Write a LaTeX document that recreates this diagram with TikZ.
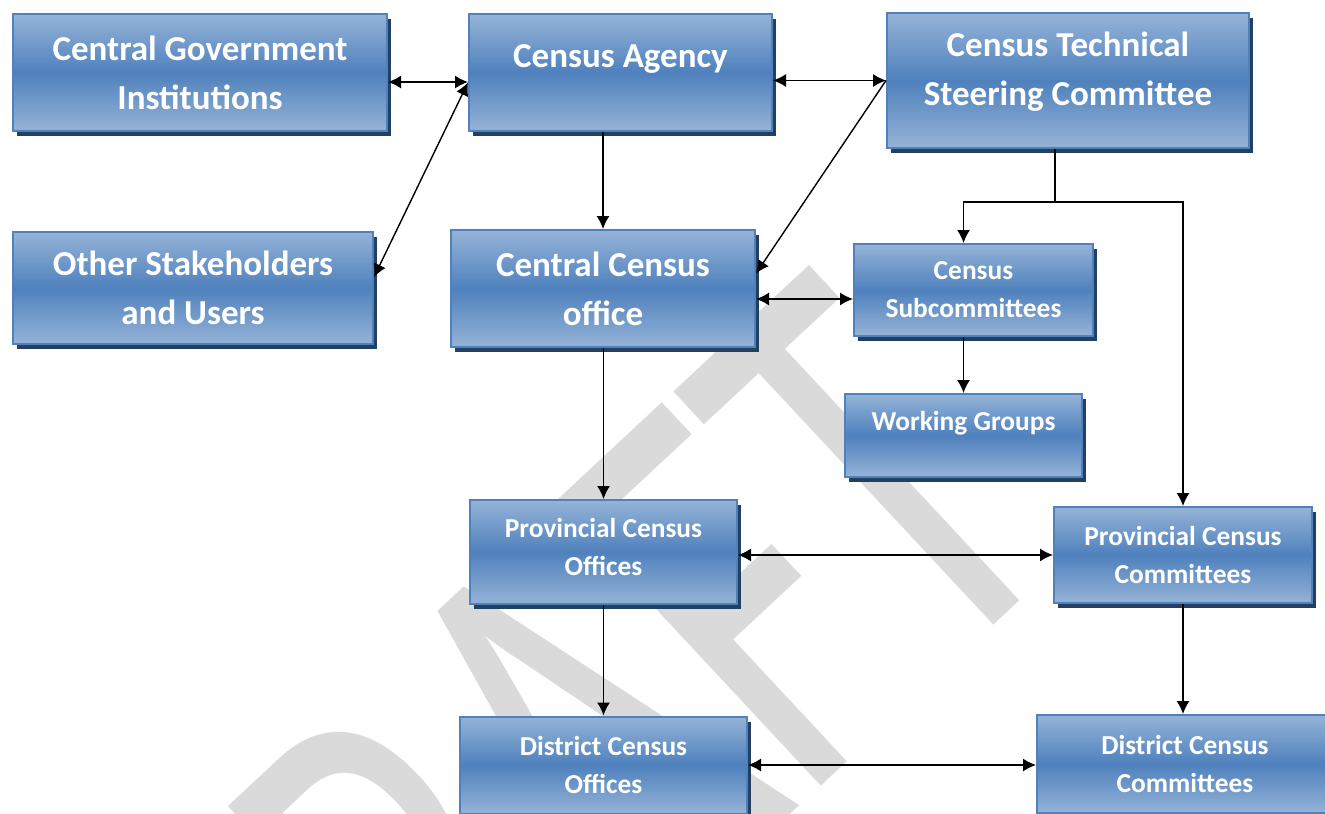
\documentclass[tikz,border=0pt]{standalone}
\usepackage{graphicx}
\usepackage{fontspec}
\setmainfont{Carlito}
\usetikzlibrary{arrows.meta,shadows}

\definecolor{boxtop}{RGB}{149,179,215}
\definecolor{boxmid}{RGB}{79,129,189}
\definecolor{boxline}{RGB}{79,129,189}
\definecolor{boxshade}{RGB}{36,64,97}
\definecolor{wmgray}{RGB}{218,218,218}

\newcommand{\liftline}[2]{\raisebox{#1}[\height][\depth]{#2}}

\begin{document}
\begin{tikzpicture}[x=0.5pt,y=-0.5pt,
  every path/.style={>={Latex[length=6.5pt,width=6.5pt]}},
  box/.style={draw=boxline,line width=1pt,rectangle,top color=boxtop,bottom color=boxtop,middle color=boxmid,
    text=white,align=center,drop shadow={shadow xshift=2pt,shadow yshift=-2.5pt,opacity=1,fill=boxshade}},
  big/.style={box,font=\bfseries\fontsize{17.5pt}{24.5pt}\selectfont},
  small/.style={box,font=\bfseries\fontsize{13.7pt}{19pt}\selectfont},
  link/.style={line width=0.7pt}]
\useasboundingbox (0,0) rectangle (1325,813);
\clip (0,0) rectangle (1325,813);
\fill[white] (0,0) rectangle (1325,813);

% watermark
\node[text=wmgray,rotate=43,font=\fontsize{303pt}{303pt}\selectfont] (draft) at (553,770) {\scalebox{0.66}[1]{DRAFT}};

% top row
\node[big,minimum width=187pt,minimum height=58.5pt]   (cgi)  at (200,72.5)   {Central Government\\Institutions};
\node[big,minimum width=151.5pt,minimum height=58.5pt] (ca)   at (620.5,72.5) {\liftline{7pt}{Census Agency}};
\node[big,minimum width=181pt,minimum height=67.5pt]   (ctsc) at (1068,80.5)  {\liftline{4.5pt}{Census Technical}\\\liftline{4.5pt}{Steering Committee}};
% second row
\node[big,minimum width=180pt,minimum height=56pt]     (osu)  at (193,288)    {Other Stakeholders\\and Users};
\node[big,minimum width=152pt,minimum height=58.5pt]   (cco)  at (603,288.5)  {Central Census\\office};
\node[small,minimum width=119.5pt,minimum height=46pt] (cs)   at (973.5,290)  {Census\\Subcommittees};
\node[small,minimum width=118.5pt,minimum height=41.5pt] (wg) at (963.5,435.5) {\liftline{6pt}{Working Groups}};
% provinces and districts
\node[small,minimum width=133.5pt,minimum height=52pt] (pco)  at (603.5,552)  {\liftline{2.5pt}{Provincial Census}\\\liftline{2.5pt}{Offices}};
\node[small,minimum width=129pt,minimum height=48pt]   (pcc)  at (1183,555)   {Provincial Census\\Committees};
\node[small,minimum width=143.5pt,minimum height=48.5pt] (dco) at (603.5,765) {District Census\\Offices};
\node[small,minimum width=148pt,minimum height=49pt]   (dcc)  at (1185,764)   {District Census\\Committees};

\coordinate (fork) at (1055,202);
\coordinate (csin) at ([yshift=-4.5pt]cs.west);

\draw[link,<->] ([yshift=-4.75pt]cgi.east) -- ([yshift=-4.75pt]ca.west);
\draw[link,<->] ([yshift=-5pt]ca.west) -- ([yshift=5.5pt]osu.east);
\draw[link,<->] (ca.east |- ctsc.west) -- (ctsc.west);
\draw[link,->]  (ctsc.west) -- ([yshift=7.5pt]cco.east);
\draw[link,->]  (cco.north |- ca.south) -- (cco.north);
\draw[link,<->] (cco.east |- csin) -- (csin);
\draw[link]     (ctsc.south -| fork) -- (fork);
\draw[link,->]  (fork) -| ([xshift=-5pt]cs.north);
\draw[link,->]  (fork) -| (pcc.north);
\draw[link,->]  (wg.north |- cs.south) -- (wg.north);
\draw[link,->]  (pco.north |- cco.south) -- (pco.north);
\draw[link,<->] (pco.east |- pcc.west) -- (pcc.west);
\draw[link,->]  (dco.north |- pco.south) -- (dco.north);
\draw[link,->]  (pcc.south) -- (pcc.south |- dcc.north);
\draw[link,<->] (dco.east) -- (dco.east -| dcc.west);
\end{tikzpicture}
\end{document}
